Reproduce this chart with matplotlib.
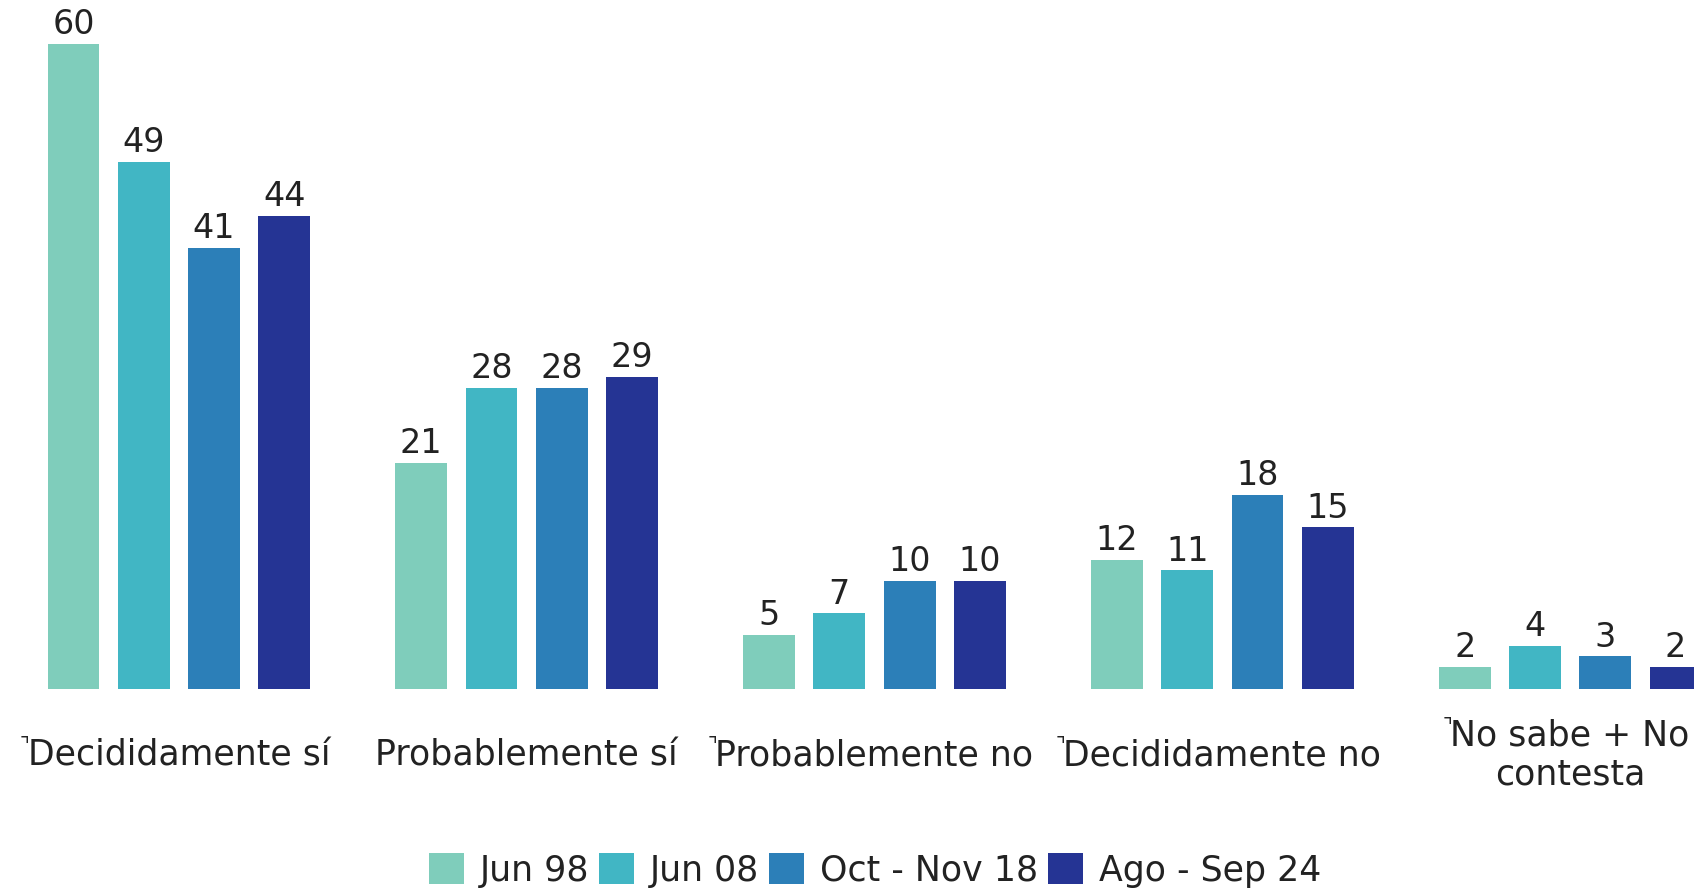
import matplotlib

matplotlib.use("Agg")
import matplotlib.pyplot as plt
import numpy as np

categories = [
    "Decididamente sí",
    "Probablemente sí",
    "Probablemente no",
    "Decididamente no",
    "No sabe + No\ncontesta",
]
# categories whose label carries the small corner mark
marked = [True, False, True, True, True]

series = ["Jun 98", "Jun 08", "Oct - Nov 18", "Ago - Sep 24"]
jun98 = [60, 21, 5, 12, 2]
jun08 = [49, 28, 7, 11, 4]
oct_nov18 = [41, 28, 10, 18, 3]
ago_sep24 = [44, 29, 10, 15, 2]
values = [jun98, jun08, oct_nov18, ago_sep24]

colors = ["#7fcdbb", "#41b6c4", "#2c7fb8", "#253494"]
text_color = "#222222"

plt.rcParams["font.family"] = ["DejaVu Sans"]

fig = plt.figure(figsize=(16.94, 8.9), dpi=100)
ax = fig.add_axes([0, 0.2264, 1, 0.7736])

x = np.arange(len(categories))
step = 0.2019
width = 0.149
offsets = (np.arange(len(series)) - 1.5) * step

for vals, name, color, off in zip(values, series, colors, offsets):
    bars = ax.bar(x + off, vals, width=width, color=color, label=name)
    ax.bar_label(bars, labels=[str(v) for v in vals], padding=2,
                 fontsize=24, color=text_color)

ax.set_xlim(-0.514, 4.356)
ax.set_ylim(0, 64.1)
ax.set_yticks([])
ax.set_xticks(x)
ax.set_xticklabels(categories, fontsize=25, color=text_color,
                   linespacing=1.2, ha="center")
ax.tick_params(axis="x", length=0, pad=48)
for lbl in ax.get_xticklabels():
    lbl.set_va("center")
for side in ax.spines.values():
    side.set_visible(False)

# small corner marks at the top-left of some category labels
fig.canvas.draw()
renderer = fig.canvas.get_renderer()
for lbl, has_mark in zip(ax.get_xticklabels(), marked):
    if not has_mark:
        continue
    bb = lbl.get_window_extent(renderer)
    fig.text(bb.x0 / fig.bbox.width + 0.001, bb.y1 / fig.bbox.height + 0.002,
             "\u231d", fontsize=15, color=text_color, ha="right", va="top")

fig.legend(
    loc="center",
    bbox_to_anchor=(810 / 1568, 1 - 806 / 824),
    ncol=4,
    frameon=False,
    fontsize=25,
    handlelength=1.0,
    handleheight=1.0,
    handletextpad=0.45,
    columnspacing=0.3,
    labelcolor=text_color,
)

fig.savefig("out.png", dpi=100)
